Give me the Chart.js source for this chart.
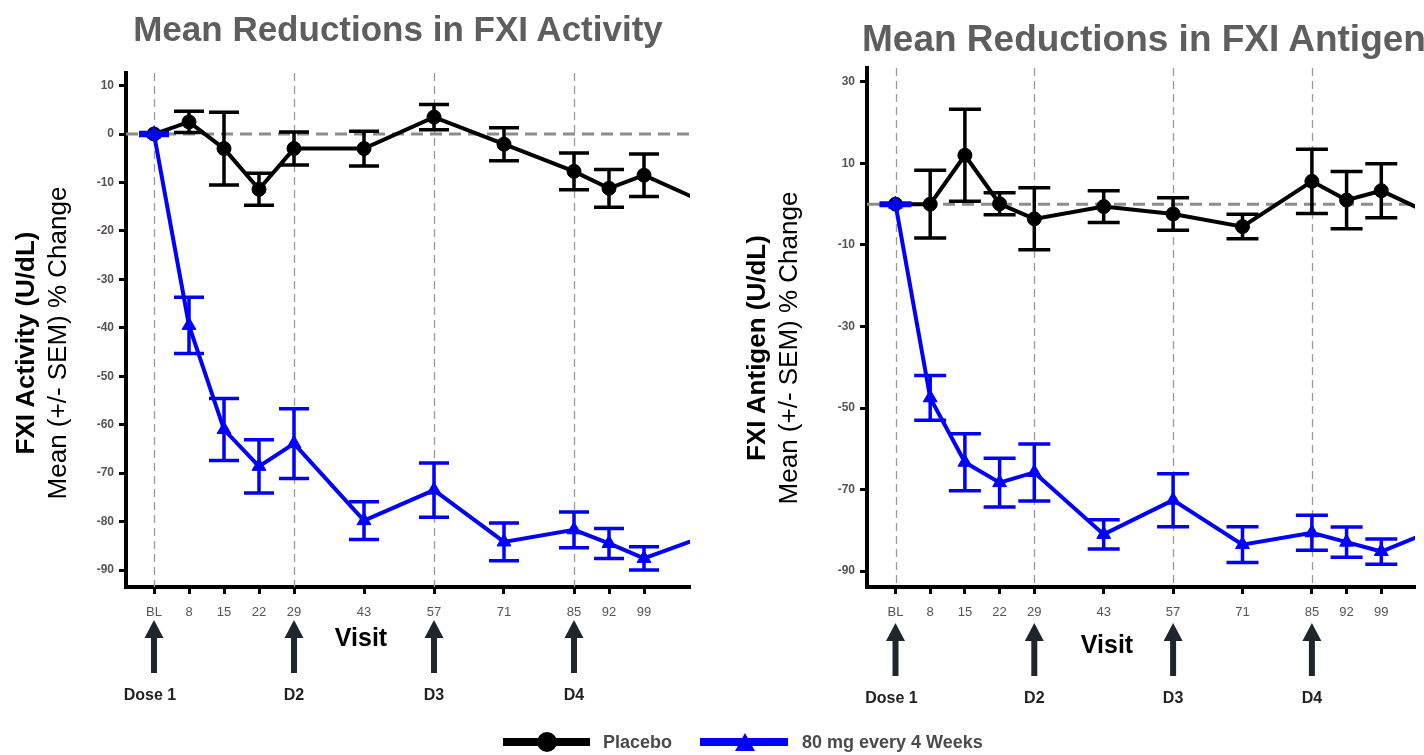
<!DOCTYPE html>
<html>
<head>
<meta charset="utf-8">
<script src="https://cdn.jsdelivr.net/npm/chart.js@4.4.1/dist/chart.umd.min.js"></script>
<style>
html,body{margin:0;padding:0;background:#fff;}
body{width:1424px;height:755px;position:relative;overflow:hidden;font-family:"Liberation Sans",Arial,Helvetica,sans-serif;}
.abs{position:absolute;white-space:nowrap;line-height:1;}
.title{font-weight:bold;color:#5e5e5e;}
.yt{font-size:26px;color:#000;transform:translate(-50%,-50%) rotate(-90deg);}
.visit{font-weight:bold;font-size:25px;color:#000;transform:translate(-50%,-50%);}
.lgtxt{font-weight:bold;font-size:18px;color:#4a4a4a;transform:translateY(-50%);}
canvas{position:absolute;top:0;}
</style>
</head>
<body>
<canvas id="cAct" width="700" height="755" style="left:0;width:700px;height:755px;"></canvas>
<canvas id="cAnt" width="684" height="755" style="left:740px;width:684px;height:755px;"></canvas>

<div class="abs title" style="left:398px;top:28px;font-size:35px;transform:translate(-50%,-50%);">Mean Reductions in FXI Activity</div>
<div class="abs title" style="left:862px;top:38px;font-size:37px;transform:translateY(-50%);">Mean Reductions in FXI Antigen</div>

<div class="abs yt" style="left:25px;top:343px;font-weight:bold;">FXI Activity (U/dL)</div>
<div class="abs yt" style="left:57px;top:343px;">Mean (+/- SEM) % Change</div>
<div class="abs yt" style="left:756px;top:348px;font-weight:bold;">FXI Antigen (U/dL)</div>
<div class="abs yt" style="left:788px;top:348px;">Mean (+/- SEM) % Change</div>

<div class="abs visit" style="left:361px;top:637px;">Visit</div>
<div class="abs visit" style="left:1107px;top:644px;">Visit</div>

<div class="abs" style="left:503px;top:738px;width:87px;height:8px;background:#000;"></div>
<div class="abs" style="left:537px;top:732px;width:20px;height:20px;border-radius:50%;background:#000;"></div>
<div class="abs lgtxt" style="left:603px;top:742px;">Placebo</div>
<div class="abs" style="left:700px;top:738px;width:88px;height:8px;background:#0000ff;"></div>
<div class="abs" style="left:735px;top:733px;width:0;height:0;border-left:10px solid transparent;border-right:10px solid transparent;border-bottom:18px solid #0000ff;"></div>
<div class="abs lgtxt" style="left:802px;top:742px;">80 mg every 4 Weeks</div>

<script>
// ---- data ----
const visitDays = [1, 8, 15, 22, 29, 43, 57, 71, 85, 92, 99, 113];
const xTickDays = [1, 8, 15, 22, 29, 43, 57, 71, 85, 92, 99];
const xTickLabels = ['BL', '8', '15', '22', '29', '43', '57', '71', '85', '92', '99'];
const doseDays = [1, 29, 57, 85];
const doseLabels = ['Dose 1', 'D2', 'D3', 'D4'];
const activityTicks = [10, 0, -10, -20, -30, -40, -50, -60, -70, -80, -90];
const antigenTicks = [30, 10, -10, -30, -50, -70, -90];

const activityPlacebo    = [0, 2.5, -3.0, -11.4, -3.0, -3.0, 3.5, -2.1, -7.7, -11.2, -8.5, -15.0];
const activityPlaceboSem = [0, 2.2, 7.5, 3.3, 3.4, 3.6, 2.6, 3.4, 3.8, 3.9, 4.4, 4.0];
const activity80mg       = [0, -39.5, -61.0, -68.6, -63.9, -79.8, -73.5, -84.2, -81.7, -84.5, -87.6, -82.3];
const activity80mgSem    = [0.3, 5.8, 6.4, 5.5, 7.2, 3.9, 5.6, 3.9, 3.7, 3.1, 2.4, 3.0];

const antigenPlacebo     = [0, 0, 12.0, 0.1, -3.6, -0.6, -2.4, -5.5, 5.6, 1.0, 3.3, -4.7];
const antigenPlaceboSem  = [0, 8.3, 11.3, 2.7, 7.6, 3.9, 4.0, 3.0, 7.9, 7.0, 6.6, 6.0];
const antigen80mg        = [0, -47.5, -63.3, -68.3, -65.8, -81.0, -72.6, -83.5, -80.6, -82.9, -85.2, -78.3];
const antigen80mgSem     = [0.3, 5.5, 7.0, 6.0, 7.0, 3.6, 6.5, 4.4, 4.3, 3.7, 3.1, 3.0];

const FONT = '"Liberation Sans", Arial, sans-serif';
const BLUE = '#0000ff';

// ---- plugins ----
const refLinesPlugin = {
  id: 'refLines',
  beforeDatasetsDraw(chart) {
    const {ctx, chartArea: a, scales: {x, y}} = chart;
    ctx.save();
    ctx.strokeStyle = '#9a9a9a'; ctx.lineWidth = 1.3; ctx.setLineDash([8, 5]);
    doseDays.forEach(d => {
      const px = Math.round(x.getPixelForValue(d)) + 0.5;
      ctx.beginPath(); ctx.moveTo(px, a.top); ctx.lineTo(px, a.bottom); ctx.stroke();
    });
    ctx.strokeStyle = '#8c8c8c'; ctx.lineWidth = 3; ctx.setLineDash([12, 7]);
    const py = y.getPixelForValue(0);
    ctx.beginPath(); ctx.moveTo(a.left, py); ctx.lineTo(a.right, py); ctx.stroke();
    ctx.restore();
  }
};

const errorBarPlugin = {
  id: 'errorBars',
  afterDatasetsDraw(chart, args, opts) {
    const {ctx, chartArea: a, scales: {y}} = chart;
    ctx.save();
    ctx.beginPath(); ctx.rect(a.left, a.top, a.right - a.left, a.bottom - a.top); ctx.clip();
    const idx = chart.data.datasets.map((d, i) => i)
      .sort((p, q) => (chart.data.datasets[q].order || 0) - (chart.data.datasets[p].order || 0));
    idx.forEach(i => {
      const ds = chart.data.datasets[i];
      const meta = chart.getDatasetMeta(i);
      ctx.strokeStyle = ds.borderColor; ctx.lineWidth = 3.5; ctx.setLineDash([]);
      const cw = opts.capHalf;
      meta.data.forEach((pt, j) => {
        const v = ds.data[j].y, e = ds.sem[j];
        const px = pt.x, yt = y.getPixelForValue(v + e), yb = y.getPixelForValue(v - e);
        ctx.beginPath();
        ctx.moveTo(px, yt); ctx.lineTo(px, yb);
        ctx.moveTo(px - cw, yt); ctx.lineTo(px + cw, yt);
        ctx.moveTo(px - cw, yb); ctx.lineTo(px + cw, yb);
        ctx.stroke();
      });
    });
    ctx.restore();
  }
};

const arrowPlugin = {
  id: 'doseArrows',
  afterDraw(chart, args, opts) {
    const {ctx, scales: {x}} = chart;
    ctx.save();
    doseDays.forEach((d, i) => {
      const px = x.getPixelForValue(d);
      ctx.fillStyle = '#1f252d';
      ctx.fillRect(px - 3, opts.tip + 16, 6, opts.bottom - opts.tip - 16);
      ctx.beginPath();
      ctx.moveTo(px, opts.tip); ctx.lineTo(px - 9.5, opts.tip + 18); ctx.lineTo(px + 9.5, opts.tip + 18);
      ctx.closePath(); ctx.fill();
      ctx.font = 'bold 16px ' + FONT; ctx.fillStyle = '#222';
      ctx.textAlign = 'center'; ctx.textBaseline = 'middle';
      ctx.fillText(doseLabels[i], px + (i === 0 ? -4 : 0), opts.labelY);
    });
    ctx.restore();
  }
};

function pts(vals) { return vals.map((v, i) => ({x: visitDays[i], y: v})); }

function makeChart(id, cfg) {
  return new Chart(document.getElementById(id), {
    type: 'line',
    data: {
      datasets: [
        {label: 'Placebo', data: pts(cfg.placebo), sem: cfg.placeboSem, order: 2,
         borderColor: '#000', backgroundColor: '#000', borderWidth: 4,
         pointStyle: 'circle', pointRadius: 7, pointBorderWidth: 1, tension: 0, clip: 0},
        {label: '80 mg every 4 Weeks', data: pts(cfg.drug), sem: cfg.drugSem, order: 1,
         borderColor: BLUE, backgroundColor: BLUE, borderWidth: 4,
         pointStyle: 'triangle', pointRadius: 8, pointBorderWidth: 1, tension: 0, clip: 0}
      ]
    },
    options: {
      responsive: false, animation: false, events: [],
      layout: {padding: {left: 0, right: cfg.padRight, top: cfg.padTop, bottom: 755 - 587 - 40}},
      plugins: {legend: {display: false}, tooltip: {enabled: false},
        errorBars: {capHalf: cfg.capHalf},
        doseArrows: {tip: cfg.arrowTip, bottom: cfg.arrowBottom, labelY: cfg.labelY}},
      scales: {
        x: {type: 'linear', min: cfg.xMin, max: cfg.xMax,
          afterBuildTicks: s => { s.ticks = xTickDays.map(v => ({value: v})); },
          afterFit: s => { s.height = 40; },
          grid: {drawOnChartArea: false, drawTicks: true, tickLength: 7, tickWidth: 3, tickColor: '#000'},
          border: {display: true, color: '#000', width: 4},
          ticks: {autoSkip: false, maxRotation: 0, padding: 11, color: '#5a5252',
            font: {family: FONT, size: 13},
            callback: v => { const k = xTickDays.indexOf(v); return k >= 0 ? xTickLabels[k] : ''; }}
        },
        y: {type: 'linear', min: cfg.yMin, max: cfg.yMax,
          afterBuildTicks: s => { s.ticks = cfg.yTicks.map(v => ({value: v})); },
          afterFit: s => { s.width = cfg.yWidth; },
          grid: {drawOnChartArea: false, drawTicks: true, tickLength: 7, tickWidth: 3, tickColor: '#000'},
          border: {display: true, color: '#000', width: 4},
          ticks: {padding: 5, color: '#5a5252', font: {family: FONT, size: 12, weight: 'bold'}}
        }
      }
    },
    plugins: [refLinesPlugin, errorBarPlugin, arrowPlugin]
  });
}

makeChart('cAct', {
  placebo: activityPlacebo, placeboSem: activityPlaceboSem,
  drug: activity80mg, drugSem: activity80mgSem,
  xMin: -4.6, xMax: 108.2, yMin: -93.5, yMax: 12.6, yTicks: activityTicks,
  yWidth: 126, padTop: 73, padRight: 10, capHalf: 15,
  arrowTip: 620, arrowBottom: 673, labelY: 696
});
makeChart('cAnt', {
  placebo: antigenPlacebo, placeboSem: antigenPlaceboSem,
  drug: antigen80mg, drugSem: antigen80mgSem,
  xMin: -4.75, xMax: 105.8, yMin: -93.9, yMax: 33.4, yTicks: antigenTicks,
  yWidth: 127, padTop: 68, padRight: 0, capHalf: 16,
  arrowTip: 623, arrowBottom: 676, labelY: 699
});
</script>
</body>
</html>
